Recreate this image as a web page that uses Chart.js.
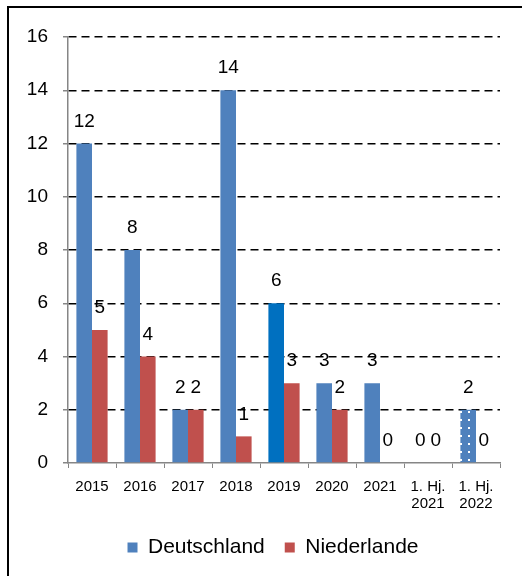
<!DOCTYPE html>
<html>
<head>
<meta charset="utf-8">
<script src="https://cdn.jsdelivr.net/npm/chart.js@4"></script>
<style>
  html, body { margin: 0; padding: 0; background: #fff; overflow: hidden; }
  #frame { position: absolute; left: 7px; top: 6px; width: 700px; height: 800px; border: 2px solid #000; }
  #wrap { position: absolute; left: 0; top: 0; width: 522px; height: 576px; }
</style>
</head>
<body>
<div id="frame"></div>
<div id="wrap"><canvas id="chart" width="522" height="576"></canvas></div>
<script>
const categories = ['2015', '2016', '2017', '2018', '2019', '2020', '2021', ['1. Hj.', '2021'], ['1. Hj.', '2022']];
const deutschland = [12, 8, 2, 14, 6, 3, 3, 0, 2];
const niederlande = [5, 4, 2, 1, 3, 2, 0, 0, 0];
const yTicks = [0, 2, 4, 6, 8, 10, 12, 14, 16];

const FONT = 'Liberation Sans, Arial, sans-serif';
const BLUE = '#4F81BD';
const RED = '#C0504D';
const AXIS = '#868686';

// dotted fill for the half-year bar
function dotPattern() {
    const c = document.createElement('canvas');
    c.width = 8; c.height = 8;
    const g = c.getContext('2d');
    g.fillStyle = BLUE;
    g.fillRect(0, 0, 8, 8);
    g.fillStyle = '#fff';
    g.fillRect(4, 3, 2, 2);
    return g.createPattern(c, 'repeat');
}

const blueColors = deutschland.map((_, i) => i === 4 ? '#0070C0' : (i === 8 ? dotPattern() : BLUE));

const valueLabels = {
    id: 'valueLabels',
    afterDatasetsDraw(chart) {
        const ctx = chart.ctx;
        ctx.save();
        ctx.font = '19px ' + FONT;
        ctx.fillStyle = '#000';
        ctx.textAlign = 'center';
        ctx.textBaseline = 'middle';
        chart.data.datasets.forEach((ds, di) => {
            chart.getDatasetMeta(di).data.forEach((bar, i) => {
                ctx.fillText(String(ds.data[i]), bar.x, bar.y - 22);
            });
        });
        ctx.restore();
    }
};

// the legend sits a little right of the canvas centre
const legendShift = {
    id: 'legendShift',
    afterLayout(chart) {
        chart.legend.left += 19;
        chart.legend.right += 19;
    }
};

new Chart(document.getElementById('chart').getContext('2d'), {
    type: 'bar',
    data: {
        labels: categories,
        datasets: [
            { label: 'Deutschland', data: deutschland, backgroundColor: blueColors },
            { label: 'Niederlande', data: niederlande, backgroundColor: RED }
        ]
    },
    options: {
        responsive: false,
        animation: false,
        devicePixelRatio: 1,
        categoryPercentage: 0.65,
        barPercentage: 1,
        layout: { padding: { left: 8, right: 22, top: 37, bottom: 8 } },
        plugins: {
            legend: {
                position: 'bottom',
                labels: {
                    boxWidth: 10,
                    boxHeight: 10,
                    padding: 20,
                    color: '#000',
                    font: { family: FONT, size: 21 }
                }
            },
            tooltip: { enabled: false }
        },
        scales: {
            x: {
                afterFit: s => { s.height = 54; },
                grid: { drawOnChartArea: false, drawTicks: true, tickLength: 5, tickColor: AXIS, offset: true },
                border: { color: AXIS, width: 1.5 },
                ticks: { color: '#000', font: { family: FONT, size: 15, lineHeight: 1.15 }, maxRotation: 0, autoSkip: false, padding: 10 }
            },
            y: {
                min: 0,
                max: 16,
                afterFit: s => { s.width = 60; },
                afterBuildTicks: s => { s.ticks = yTicks.map(v => ({ value: v })); },
                grid: {
                    color: c => c.tick && c.tick.value === 0 ? 'rgba(0,0,0,0)' : '#000',
                    lineWidth: 1.5,
                    tickColor: AXIS,
                    tickLength: 5,
                    tickBorderDash: []
                },
                border: { color: AXIS, width: 1.5, dash: [8, 5] },
                ticks: { color: '#000', font: { family: FONT, size: 19 }, padding: 15 }
            }
        }
    },
    plugins: [valueLabels, legendShift]
});
</script>
</body>
</html>
